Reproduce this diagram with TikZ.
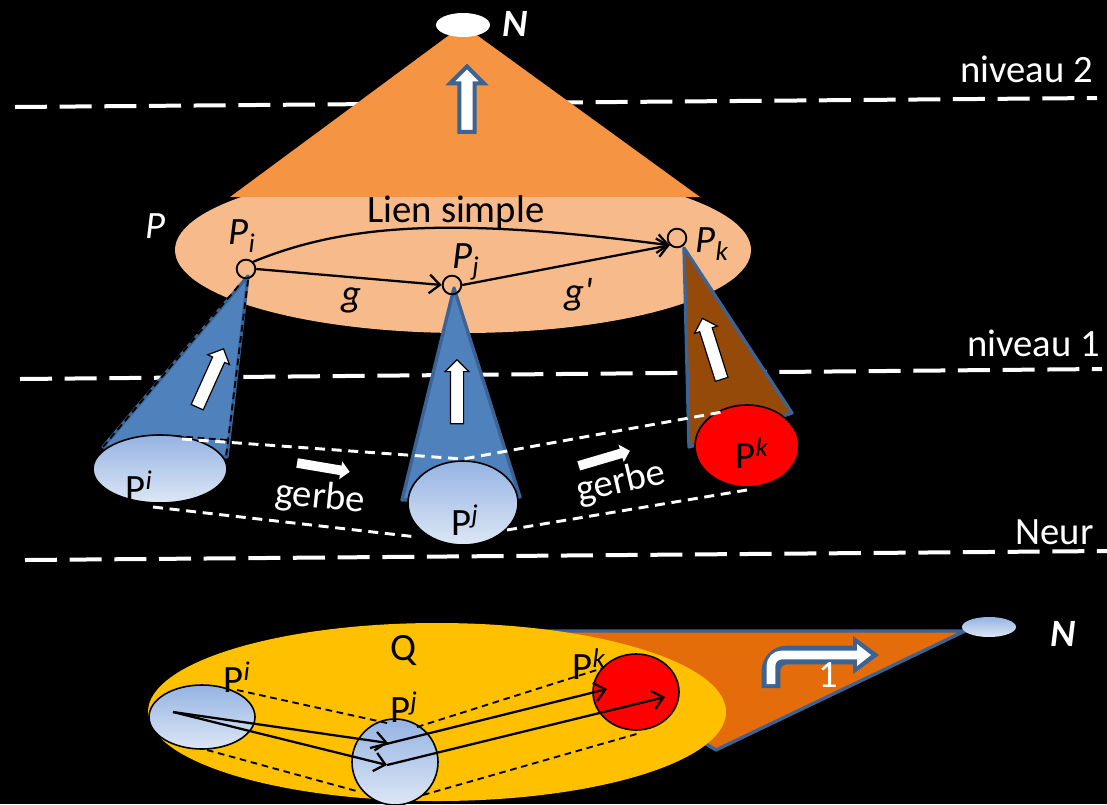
\documentclass[tikz,border=0pt]{standalone}
\usepackage{fontspec}
\setmainfont{Carlito}
\usetikzlibrary{arrows.meta,shapes.arrows}
\definecolor{topor}{HTML}{F59443}
\definecolor{lightor}{HTML}{F6BA8B}
\definecolor{conebl}{HTML}{4F81BD}
\definecolor{edgebl}{HTML}{3B6393}
\definecolor{brownk}{HTML}{954A09}
\definecolor{gtop}{HTML}{95B3E3}
\definecolor{gbot}{HTML}{DDE7F5}
\definecolor{yelq}{HTML}{FFC000}
\definecolor{orq}{HTML}{E46C0A}
\begin{document}
\begin{tikzpicture}[x=0.75pt,y=-0.75pt,
  lbl/.style={font=\fontsize{29}{34}\selectfont, inner sep=0pt},
  wlbl/.style={lbl, text=white},
  level/.style={draw=white, line width=3pt, dash pattern=on 24pt off 9.5pt},
  gerbeline/.style={draw=white, line width=2.2pt, dash pattern=on 7.5pt off 5pt},
  bdash/.style={draw=black, line width=1.4pt, dash pattern=on 5pt off 3.5pt},
  cone/.style={fill=conebl, draw=edgebl, line width=2.5pt, line join=round},
  base/.style={draw=black, line width=1.2pt, top color=gtop, bottom color=gbot},
  lnk/.style={draw=black, line width=1.7pt, -{Straight Barb[length=8pt,width=14pt,line width=1.7pt]}},
  pt/.style={circle, draw=black, line width=1.4pt, minimum size=14pt, inner sep=0pt},
  uarr/.style={single arrow, fill=white, draw=black, line width=0.9pt, minimum height=48pt, inner xsep=0pt, inner ysep=4.5pt, single arrow head extend=4pt, single arrow head indent=0pt},
  garr/.style={single arrow, fill=white, minimum height=40pt, inner xsep=0pt, inner ysep=3.4pt, single arrow head extend=3.2pt, single arrow head indent=0pt}
]
\fill[black] (0,0) rectangle (1107,804);
\useasboundingbox (0,0) rectangle (1107,804);

% level lines
\draw[level] (15,107) -- (1097,98);
\draw[level] (20,379) -- (1102,369);
\draw[level] (25,560) -- (1107,551);
\node[wlbl, anchor=base east] (n2) at (1093,82) {niveau 2};
\node[wlbl, anchor=base east] (n1) at (1100,356) {niveau 1};
\node[wlbl, anchor=base east] (neur) at (1094,544) {Neur};

% top cone and ellipse P
\fill[lightor] (463,250) ellipse [x radius=288, y radius=83];
\fill[topor] (230,197) -- (452,33) -- (474,33) -- (700,197) -- cycle;
\fill[white] (463,25) ellipse [x radius=27, y radius=12];
\node[wlbl, font=\fontsize{29}{34}\selectfont\bfseries\itshape] (Nt) at (515,24) {N};
\node[single arrow, fill=white, draw=edgebl, line width=3pt, minimum height=49pt, inner xsep=0pt, inner ysep=4.2pt, single arrow head extend=7pt, single arrow head indent=0pt, rotate=90] (atop) at (467,103) {};
\node[wlbl, font=\fontsize{29}{34}\selectfont\itshape] (P) at (155,226) {P};

% cones
\draw[cone] (248,276) -- (103,447) -- (227,457) -- cycle;
\draw[cone] (454,288) -- (402,500) -- (520,497) -- cycle;
\draw[cone, fill=brownk] (684,248) -- (689,447) -- (792,413) -- cycle;
\draw[bdash] (103,447) -- (240,284);
\draw[bdash] (248,280) -- (226,457);
\draw[bdash] (175,436) -- (227,440);
\node[uarr, rotate=65.7] (ai) at (209,381) {};
\node[uarr, rotate=90] (aj) at (457,395) {};
\node[uarr, rotate=107.6] (ak) at (713,352) {};

% points and links in P
\node[pt] (pi) at (246,269) {};
\node[pt] (pj) at (452,285) {};
\node[pt] (pk) at (677,238) {};
\draw[lnk] (pi.east) -- (pj.west);
\draw[lnk] (pj.east) -- (pk.south west);
\draw[lnk] (pi.north east) .. controls (350,222) and (460,218) .. (pk.south west);
\node[lbl] (ls) at (456,212) {Lien simple};
\node[lbl, font=\fontsize{29}{34}\selectfont\itshape] (lpi) at (242,236) {P\textsubscript{i}};
\node[lbl, font=\fontsize{29}{34}\selectfont\itshape] (lpj) at (466,262) {P\textsubscript{j}};
\node[lbl, font=\fontsize{29}{34}\selectfont\itshape] (lpk) at (712,244) {P\textsubscript{k}};
\node[lbl, font=\fontsize{29}{34}\selectfont\itshape] (g) at (351,300) {g};
\node[lbl, font=\fontsize{29}{34}\selectfont\itshape] (g2) at (579,295) {g\textquotesingle};

% base ellipses
\draw[base] (160,469) ellipse [x radius=67, y radius=34];
\draw[base] (463,503) ellipse [x radius=55, y radius=42];
\draw[black, line width=1.2pt, fill=red] (747,446) ellipse [x radius=52, y radius=41];
\node[lbl] (ubi) at (139,486) {P\textsuperscript{\itshape i}};
\node[lbl] (ubj) at (465,520) {P\textsuperscript{\itshape j}};
\node[lbl] (ubk) at (752,453) {P\textsuperscript{\itshape k}};

% gerbe
\coordinate (gt1) at (182,439);
\coordinate (gt2) at (463,459);
\coordinate (gt3) at (722,412);
\coordinate (gb1) at (153,507);
\coordinate (gb2) at (417,537);
\coordinate (gb3) at (507,530);
\coordinate (gb4) at (747,490);
\draw[gerbeline] (gt1) -- (gt2) -- (gt3);
\draw[gerbeline] (gb1) -- (gb2);
\draw[gerbeline] (gb3) -- (gb4);
\node[garr, rotate=-9.6] (ga1) at (321,467) {};
\node[garr, rotate=16.4] (ga2) at (602,459) {};
\node[wlbl, rotate=-6] (gerbe1) at (320,498) {gerbe};
\node[wlbl, rotate=13] (gerbe2) at (621,483) {gerbe};

% bottom part
\draw[draw=edgebl, fill=orq, line width=2.5pt, line join=round] (520,631) -- (965,631) -- (716,750) -- cycle;
\fill[yelq] (437,712) ellipse [x radius=289, y radius=89];
\draw[draw=none, top color=gtop, bottom color=gbot] (989,627) ellipse [x radius=27, y radius=10];
\node[wlbl, font=\fontsize{29}{34}\selectfont\bfseries\itshape] (Nb) at (1063,634) {N};
% bent arrow
\draw[edgebl, line width=14pt, rounded corners=12] (771,688) -- (771,655) -- (858,655);
\fill[edgebl] (853,636) -- (879,655) -- (853,674) -- cycle;
\draw[white, line width=6.5pt, rounded corners=8] (771,684) -- (771,655) -- (860,655);
\fill[white] (857,644) -- (871,655) -- (857,666) -- cycle;
\node[wlbl] (one) at (828,675) {1};

\draw[base] (202,717) ellipse [x radius=53, y radius=32];
\draw[base] (395,762) ellipse [x radius=43, y radius=43];
\draw[black, line width=1.2pt, fill=red] (636,692) ellipse [x radius=43, y radius=38];

\coordinate (d1) at (237,690); \coordinate (d2) at (387,723);
\coordinate (d3) at (417,727); \coordinate (d4) at (603,668);
\coordinate (d5) at (207,750); \coordinate (d6) at (360,792);
\coordinate (d7) at (423,795); \coordinate (d8) at (640,733);
\draw[bdash] (d1) -- (d2);
\draw[bdash] (d3) -- (d4);
\draw[bdash] (d5) -- (d6);
\draw[bdash] (d7) -- (d8);

\coordinate (s0) at (173,712);
\coordinate (e1) at (388,743);
\coordinate (e2) at (387,765);
\coordinate (s3) at (370,748);
\coordinate (e3) at (607,689);
\coordinate (e4) at (665,697);
\draw[lnk] (s0) -- (e1);
\draw[lnk] (s0) -- (e2);
\draw[lnk] (s3) -- (e3);
\draw[lnk] (e2) -- (e4);

\node[lbl] (Q) at (404,651) {Q};
\node[lbl] (bi) at (237,677) {P\textsuperscript{\itshape i}};
\node[lbl] (bj) at (404,707) {P\textsuperscript{\itshape j}};
\node[lbl] (bk) at (589,664) {P\textsuperscript{\itshape k}};
\end{tikzpicture}
\end{document}
